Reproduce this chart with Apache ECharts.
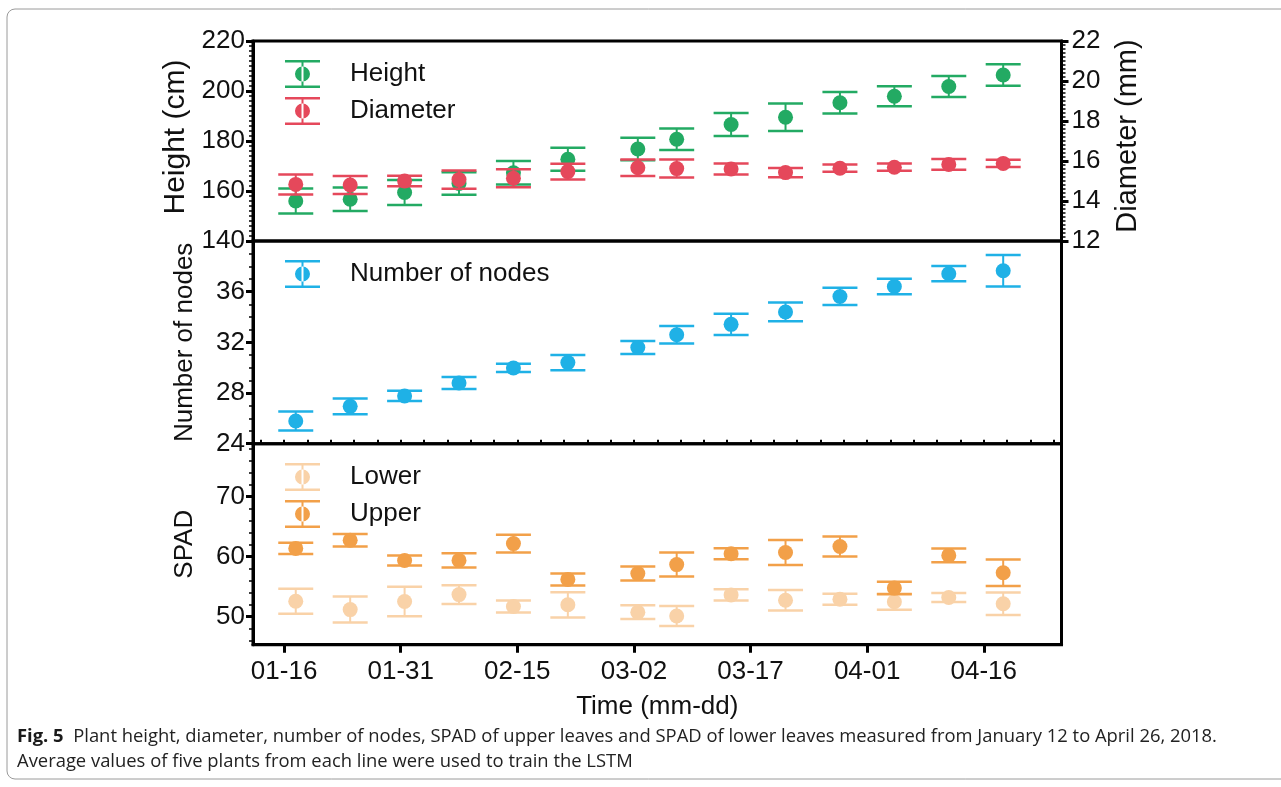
<!DOCTYPE html>
<html>
<head>
<meta charset="utf-8">
<script src="https://cdn.jsdelivr.net/npm/echarts@6/dist/echarts.min.js"></script>
<style>
  html, body { margin: 0; padding: 0; background: #fff; }
  #chart { width: 1281px; height: 787px; }
</style>
</head>
<body>
<div id="chart"></div>
<script>
// ---- data (2018 season, mean ± error of five plants) ----
const sampleDates = ['01-17', '01-24', '01-31', '02-07', '02-14', '02-21', '03-02',
                     '03-07', '03-14', '03-21', '03-28', '04-04', '04-11', '04-18'];
const axisStart = '01-12';
const axisEnd = '04-26';
const dateTicks = ['01-16', '01-31', '02-15', '03-02', '03-17', '04-01', '04-16'];

const heightMean = [156.0, 156.7, 159.4, 163.0, 167.3, 172.7, 176.8, 180.7, 186.6, 189.5, 195.3, 197.9, 201.8, 206.4];
const heightErr  = [5.0, 4.7, 5.0, 4.5, 4.7, 4.6, 4.5, 4.3, 4.6, 5.5, 4.3, 4.0, 4.2, 4.3];

const diameterMean = [14.83, 14.80, 15.00, 15.07, 15.14, 15.47, 15.66, 15.62, 15.60, 15.42, 15.64, 15.69, 15.83, 15.88];
const diameterErr  = [0.50, 0.45, 0.26, 0.46, 0.45, 0.39, 0.41, 0.45, 0.27, 0.23, 0.18, 0.18, 0.27, 0.18];

const nodesMean = [25.79, 26.95, 27.77, 28.79, 29.98, 30.40, 31.59, 32.60, 33.42, 34.40, 35.62, 36.41, 37.42, 37.65];
const nodesErr  = [0.75, 0.62, 0.40, 0.48, 0.33, 0.60, 0.51, 0.70, 0.83, 0.74, 0.68, 0.62, 0.60, 1.25];

const upperMean = [61.35, 62.70, 59.33, 59.35, 62.15, 56.18, 57.15, 58.65, 60.47, 60.67, 61.67, 54.75, 60.18, 57.30];
const upperErr  = [0.94, 1.05, 0.83, 1.20, 1.47, 1.00, 1.17, 2.00, 0.92, 2.10, 1.67, 1.05, 1.14, 2.22];

const lowerMean = [52.55, 51.15, 52.50, 53.65, 51.67, 51.95, 50.72, 50.08, 53.60, 52.70, 52.88, 52.47, 53.17, 52.13];
const lowerErr  = [2.08, 2.17, 2.44, 1.55, 1.00, 2.10, 1.14, 1.67, 0.95, 1.72, 0.92, 1.33, 0.75, 1.86];

const spadTicks = [50, 60, 70];

// ---- helpers ----
const DAY = 86400000;
function dayIndex(md) {
  const [m, d] = md.split('-').map(Number);
  const [m0, d0] = axisStart.split('-').map(Number);
  return (Date.UTC(2018, m - 1, d) - Date.UTC(2018, m0 - 1, d0)) / DAY;
}
const SAMPLE_TIME = 0.5; // measurements taken around midday
const sampleX = sampleDates.map(d => dayIndex(d) + SAMPLE_TIME);
const xMax = dayIndex(axisEnd);
const majorDays = dateTicks.map(dayIndex);
const minorDays = [];
for (let d = majorDays[0] % 3; d <= xMax; d += 3) minorDays.push(d);
const spadMinor = [];
for (let v = 46; v <= 78; v += 2) if (spadTicks.indexOf(v) < 0) spadMinor.push(v);

const FONT = "'Liberation Sans', Arial, Helvetica, sans-serif";
const INK = '#111';
const COLORS = {
  height: '#23aa63',
  diameter: '#e5485b',
  nodes: '#1fb1e6',
  upper: '#f2a049',
  lower: '#f9d2a8'
};

const CAP_HALF = 17.5;
const DOT_R = 7.5;
function renderErr(params, api) {
  const x = api.value(0), y = api.value(1), e = api.value(2);
  const c = api.coord([x, y]);
  const t = api.coord([x, y + e]);
  const b = api.coord([x, y - e]);
  const color = api.visual('color');
  return {
    type: 'group',
    children: [
      { type: 'line', shape: { x1: c[0], y1: t[1], x2: c[0], y2: b[1] }, style: { stroke: color, lineWidth: 2 } },
      { type: 'line', shape: { x1: c[0] - CAP_HALF, y1: t[1], x2: c[0] + CAP_HALF, y2: t[1] }, style: { stroke: color, lineWidth: 2.5 } },
      { type: 'line', shape: { x1: c[0] - CAP_HALF, y1: b[1], x2: c[0] + CAP_HALF, y2: b[1] }, style: { stroke: color, lineWidth: 2.5 } },
      { type: 'circle', shape: { cx: c[0], cy: c[1], r: DOT_R }, style: { fill: color } }
    ]
  };
}
function errSeries(name, color, mean, err, xIdx, yIdx, z) {
  return {
    type: 'custom',
    name: name,
    xAxisIndex: xIdx,
    yAxisIndex: yIdx,
    z: z,
    clip: false,
    itemStyle: { color: color },
    encode: { x: 0, y: 1 },
    data: sampleX.map((x, i) => [x, mean[i], err[i]]),
    renderItem: renderErr
  };
}

// legend glyph: caps, stem and dot
const ERR_ICON = 'path://M0 0H35V2.5H0Z M0 25.5H35V28H0Z M16.5 0H18.5V28H16.5Z M10 14A7.5 7.5 0 1 0 25 14A7.5 7.5 0 1 0 10 14Z';

const labelStyle = { fontFamily: FONT, fontSize: 26, color: INK };
function nameStyle(size, shift) {
  return { fontFamily: FONT, fontSize: size, color: INK, padding: [0, 0, 0, shift || 0] };
}
const tickLine = { color: '#000', width: 3 };
const minorLine = { color: '#000', width: 1.5 };

function hiddenX(grid) {
  return {
    type: 'value', gridIndex: grid, min: 0, max: xMax,
    axisLine: { show: false }, axisTick: { show: false }, axisLabel: { show: false }, splitLine: { show: false }
  };
}
function legendFor(top, names) {
  return {
    orient: 'vertical', left: 285, top: top, padding: 0, itemGap: 9,
    itemWidth: 35, itemHeight: 28, selectedMode: false,
    textStyle: { fontFamily: FONT, fontSize: 26, color: INK, padding: [0, 0, 0, 25] },
    data: names.map(n => ({ name: n, icon: ERR_ICON }))
  };
}

const GRID_LEFT = 253, GRID_W = 808.5;
const option = {
  backgroundColor: '#fff',
  animation: false,
  grid: [
    { left: GRID_LEFT, top: 41, width: GRID_W, height: 200, show: true, borderColor: '#000', borderWidth: 3, backgroundColor: 'transparent' },
    { left: GRID_LEFT, top: 241, width: GRID_W, height: 202.7, show: true, borderColor: '#000', borderWidth: 3, backgroundColor: 'transparent' },
    { left: GRID_LEFT, top: 443.7, width: GRID_W, height: 201, show: true, borderColor: '#000', borderWidth: 3, backgroundColor: 'transparent' }
  ],
  legend: [
    legendFor(60, ['Height', 'Diameter']),
    legendFor(260, ['Number of nodes']),
    legendFor(463, ['Lower', 'Upper'])
  ],
  xAxis: [
    hiddenX(0),
    hiddenX(1),
    {
      type: 'value', gridIndex: 2, min: 0, max: xMax,
      name: 'Time (mm-dd)', nameLocation: 'middle', nameGap: 49, nameTextStyle: nameStyle(26),
      axisLine: { show: true, lineStyle: { color: '#000', width: 3 } },
      axisTick: { show: true, length: 8, lineStyle: tickLine, customValues: majorDays },
      axisLabel: Object.assign({ margin: 14, customValues: majorDays,
        formatter: v => dateTicks[majorDays.indexOf(v)] }, labelStyle),
      splitLine: { show: false }
    },
    {
      type: 'value', gridIndex: 2, min: 0, max: xMax,
      axisLine: { show: false },
      axisTick: { show: true, length: 4, lineStyle: { color: '#000', width: 2 }, customValues: minorDays },
      axisLabel: { show: false }, splitLine: { show: false }
    }
  ],
  yAxis: [
    {
      type: 'value', gridIndex: 0, position: 'left', min: 140, max: 220, interval: 20,
      name: 'Height (cm)', nameLocation: 'middle', nameGap: 60, nameTextStyle: nameStyle(30, 8),
      axisLine: { show: true, lineStyle: { color: '#000', width: 3 } },
      axisTick: { show: true, length: 7, lineStyle: tickLine },
      minorTick: { show: true, splitNumber: 10, length: 4, lineStyle: minorLine },
      axisLabel: Object.assign({ margin: 8 }, labelStyle),
      splitLine: { show: false }
    },
    {
      type: 'value', gridIndex: 0, position: 'right', min: 12, max: 22, interval: 2,
      name: 'Diameter (mm)', nameLocation: 'middle', nameGap: 52, nameTextStyle: nameStyle(29, 10),
      axisLine: { show: true, lineStyle: { color: '#000', width: 3 } },
      axisTick: { show: true, length: 7, lineStyle: tickLine },
      minorTick: { show: true, splitNumber: 10, length: 4, lineStyle: minorLine },
      axisLabel: Object.assign({ margin: 10 }, labelStyle),
      splitLine: { show: false }
    },
    {
      type: 'value', gridIndex: 1, position: 'left', min: 24, max: 40, interval: 4,
      name: 'Number of nodes', nameLocation: 'middle', nameGap: 55, nameTextStyle: nameStyle(26),
      axisLine: { show: true, lineStyle: { color: '#000', width: 3 } },
      axisTick: { show: true, length: 7, lineStyle: tickLine },
      minorTick: { show: true, splitNumber: 4, length: 4, lineStyle: minorLine },
      axisLabel: Object.assign({ margin: 8, showMaxLabel: false }, labelStyle),
      splitLine: { show: false }
    },
    {
      type: 'value', gridIndex: 2, position: 'left', min: 45.3, max: 78.8,
      name: 'SPAD', nameLocation: 'middle', nameGap: 55, nameTextStyle: nameStyle(26),
      axisLine: { show: true, lineStyle: { color: '#000', width: 3 } },
      axisTick: { show: true, length: 7, lineStyle: tickLine, customValues: spadTicks },
      axisLabel: Object.assign({ margin: 8, customValues: spadTicks }, labelStyle),
      splitLine: { show: false }
    },
    {
      type: 'value', gridIndex: 2, position: 'left', min: 45.3, max: 78.8,
      axisLine: { show: false },
      axisTick: { show: true, length: 4, lineStyle: minorLine, customValues: spadMinor },
      axisLabel: { show: false }, splitLine: { show: false }
    }
  ],
  series: [
    errSeries('Height', COLORS.height, heightMean, heightErr, 0, 0, 2),
    errSeries('Diameter', COLORS.diameter, diameterMean, diameterErr, 0, 1, 3),
    errSeries('Number of nodes', COLORS.nodes, nodesMean, nodesErr, 1, 2, 2),
    errSeries('Lower', COLORS.lower, lowerMean, lowerErr, 2, 3, 2),
    errSeries('Upper', COLORS.upper, upperMean, upperErr, 2, 3, 3)
  ],
  graphic: [
    {
      type: 'rect', silent: true, z: -1,
      shape: { x: 7, y: 9, width: 1300, height: 770, r: 8 },
      style: { fill: 'none', stroke: '#9a9a9a', lineWidth: 1 }
    },
    {
      type: 'text', left: 17, top: 724, silent: true,
      style: {
        text: '{b|Fig. 5}  Plant height, diameter, number of nodes, SPAD of upper leaves and SPAD of lower leaves measured from January 12 to April 26, 2018.\nAverage values of five plants from each line were used to train the LSTM',
        fontFamily: "'Open Sans', 'Noto Sans', sans-serif",
        fontSize: 18.4,
        lineHeight: 25,
        fill: '#222',
        rich: {
          b: { fontFamily: "'Open Sans', 'Noto Sans', sans-serif", fontSize: 18.4, fontWeight: 'bold', fill: '#1a1a1a', lineHeight: 25 }
        }
      }
    }
  ]
};

const chart = echarts.init(document.getElementById('chart'), null, { renderer: 'canvas' });
chart.setOption(option);
</script>
</body>
</html>
